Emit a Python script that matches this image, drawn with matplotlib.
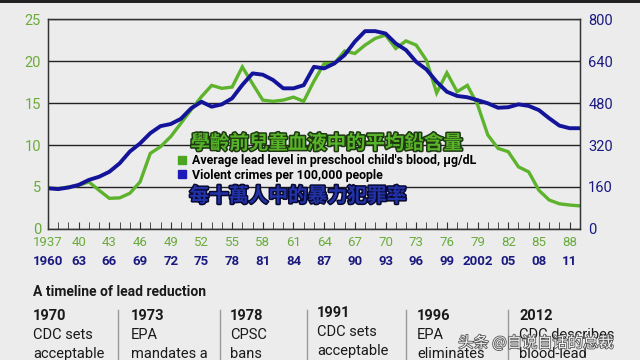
import numpy as np
import matplotlib
matplotlib.use('Agg')
import matplotlib.pyplot as plt
import matplotlib.patheffects as pe
from matplotlib.patches import Patch, Rectangle
from matplotlib.lines import Line2D
from matplotlib.ticker import MultipleLocator

# Data
LAG = 23
lead_years = list(range(1937, 1990))
lead_level = [4.85, 4.8, 5.0, 5.2, 5.6, 4.6, 3.65, 3.7, 4.25, 5.6,
              9.0, 9.8, 11.0, 12.6, 14.2, 15.75, 17.1, 16.75, 16.9, 19.3,
              17.3, 15.35, 15.2, 15.35, 15.7, 15.2, 17.6, 19.7, 19.7, 21.2,
              20.9, 21.9, 22.7, 23.1, 21.5, 22.4, 21.9, 20.1, 16.2, 18.6,
              16.35, 17.1, 14.8, 11.2, 9.6, 9.2, 7.4, 6.8, 4.6, 3.45,
              3.0, 2.85, 2.75]
crime_years = list(range(1960, 2013))
crime_rate = [155, 152, 158, 168, 187, 199, 218, 250, 295, 326,
              365, 392, 400, 420, 460, 485, 466, 475, 498, 549,
              593, 588, 568, 536, 536, 548, 618, 612, 631, 663,
              714, 754, 754, 745, 707, 682, 637, 608, 561, 523,
              507, 502, 491, 479, 462, 464, 475, 469, 453, 422,
              394, 384, 384]

lead_ticks = list(range(1937, 1989, 3))
lead_tick_labels = ['1937'] + [str(y)[2:] for y in lead_ticks[1:]]
crime_ticks = list(range(1960, 2012, 3))
crime_tick_labels = ['1960', '63', '66', '69', '72', '75', '78', '81', '84',
                     '87', '90', '93', '96', '99', '2002', '05', '08', '11']

timeline_years = ['1970', '1973', '1978', '1991', '1996', '2012']
timeline_text = [['CDC sets', 'acceptable'], ['EPA', 'mandates a'],
                 ['CPSC', 'bans'], ['CDC sets', 'acceptable'],
                 ['EPA', 'eliminates'], ['CDC describes', 'blood-lead']]

BG = '#ececec'
GREEN = '#5db32c'
GREEN_TXT = '#6aab3c'
NAVY = '#14149a'
NAVY_TXT = '#1a1a80'
CJK = ['Noto Sans CJK TC', 'DejaVu Sans']

fig = plt.figure(figsize=(6.4, 3.6), dpi=100, facecolor=BG)
fig.add_artist(Rectangle((0, 0.992), 1, 0.008, transform=fig.transFigure,
                         color='#222222', lw=0))

ax = fig.add_axes([0.075, 0.364, 0.831, 0.583])
ax.set_facecolor(BG)
ax.set_xlim(1937, 1989)
ax.set_ylim(0, 25)
ax.set_yticks(range(0, 26, 5))
ax.yaxis.grid(True, color='#222222', lw=1)
ax.set_axisbelow(True)
for s in ax.spines.values():
    s.set_color('#333333')
    s.set_linewidth(1)

ax.plot(lead_years, lead_level, color=GREEN, lw=2.4, solid_joinstyle='miter')

ax.set_xticks(lead_ticks, labels=lead_tick_labels)
ax.xaxis.set_minor_locator(MultipleLocator(1))
ax.tick_params(axis='x', which='both', direction='in', length=5,
               color='#333333', labelcolor=GREEN_TXT, labelsize=9.5, pad=5)
ax.tick_params(axis='y', length=0, labelcolor=GREEN_TXT, labelsize=10.5, pad=5)
for lab in ax.get_xticklabels() + ax.get_yticklabels():
    lab.set_family('Roboto')

ax2 = ax.twinx()
ax2.set_ylim(0, 800)
ax2.set_yticks(range(0, 801, 160))
ax2.plot(np.array(crime_years) - LAG, crime_rate, color=NAVY, lw=2.8)
ax2.tick_params(axis='y', length=0, labelcolor=NAVY_TXT, labelsize=10.5, pad=6)
for lab in ax2.get_yticklabels():
    lab.set_family('Roboto')
for s in ax2.spines.values():
    s.set_color('#333333')

sec = ax.secondary_xaxis(-0.09, functions=(lambda x: x + LAG, lambda x: x - LAG))
sec.set_xticks(crime_ticks, labels=crime_tick_labels)
sec.spines['bottom'].set_visible(False)
sec.tick_params(length=0, labelcolor=NAVY_TXT, labelsize=9.5, pad=5)
for lab in sec.get_xticklabels():
    lab.set_family('Roboto')
    lab.set_weight('bold')

# overlays
fig.text(0.511, 0.602, '學齡前兒童血液中的平均鉛含量', family=CJK, weight='bold',
         fontsize=14, color='#58b428', ha='center', va='center',
         path_effects=[pe.withStroke(linewidth=2.2, foreground='#1e3812')])
handles = [Patch(color='#4aa523'), Patch(color='#1c1cb8')]
fig.legend(handles, ["Average lead level in preschool child's blood, μg/dL",
                     'Violent crimes per 100,000 people'],
           loc='upper left', bbox_to_anchor=(0.278, 0.572), frameon=False,
           handlelength=0.65, handleheight=0.65, handletextpad=0.45,
           labelspacing=0.12, borderpad=0, borderaxespad=0,
           prop={'family': 'Roboto', 'weight': 'bold', 'size': 8.9})
fig.text(0.296, 0.455, '每十萬人中的暴力犯罪率', family=CJK, weight='bold',
         fontsize=14.2, color='#2233aa', ha='left', va='center',
         path_effects=[pe.withStroke(linewidth=2.2, foreground='#0a0a30')])

# timeline
fig.text(0.052, 1 - 292 / 360, 'A timeline of lead reduction', family='Roboto',
         weight='bold', fontsize=10, color='#1a1a1a', va='center')
col_x = [33, 131, 230, 317, 417, 519]
col_dy = [0, 0, 0, -3, 0, 0]
for x, dy, yr, lines in zip(col_x, col_dy, timeline_years, timeline_text):
    fig.text(x / 640, 1 - (316 + dy) / 360, yr, family='Roboto', weight='bold',
             fontsize=10.5, color='#1a1a1a', va='center')
    fig.text(x / 640, 1 - (335 + dy) / 360, lines[0], family='Roboto',
             fontsize=10.5, color='#1a1a1a', va='center')
    fig.text(x / 640, 1 - (354 + dy) / 360, lines[1], family='Roboto',
             fontsize=10.5, color='#1a1a1a', va='center')
for x in [118, 220, 307, 406, 508]:
    fig.add_artist(Line2D([x / 640, x / 640], [1 - 310 / 360, 0],
                          transform=fig.transFigure, color='#9a9a9a', lw=1))

fig.text(0.716, 1 - 343 / 360, '头条 @自说自话的总裁', family=['Noto Sans CJK SC', 'DejaVu Sans'],
         fontsize=11, color='#f4f4f4', va='center',
         path_effects=[pe.withStroke(linewidth=1.2, foreground='#555555')])

fig.savefig('out.png', dpi=100, facecolor=BG)
